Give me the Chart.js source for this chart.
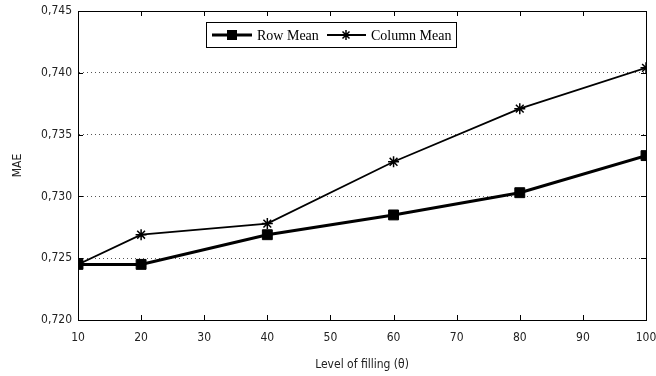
<!DOCTYPE html>
<html>
<head>
<meta charset="utf-8">
<script src="https://cdn.jsdelivr.net/npm/chart.js@4"></script>
<style>
  html, body { margin: 0; padding: 0; background: #fff; }
  #wrap { width: 656px; height: 376px; }
</style>
</head>
<body>
<div id="wrap"><canvas id="maeChart" width="656" height="376"></canvas></div>
<script>
// Datos
const fillLevels = [10, 20, 40, 60, 80, 100];
const rowMean = [0.7245, 0.7245, 0.7269, 0.7285, 0.7303, 0.7333];
const columnMean = [0.7245, 0.7269, 0.7278, 0.7328, 0.7371, 0.7404];
const xTicks = [10, 20, 30, 40, 50, 60, 70, 80, 90, 100];
const yTicks = [0.720, 0.725, 0.730, 0.735, 0.740, 0.745];

const tickFont = { family: "'Liberation Sans Narrow', 'DejaVu Sans Condensed', 'Liberation Sans', sans-serif", size: 12 };

// Caja del área, marcas hacia dentro y leyenda tipo MATLAB
const boxPlugin = {
  id: 'boxPlugin',
  afterDraw(chart) {
    const { ctx, chartArea: a, scales } = chart;
    ctx.save();
    ctx.strokeStyle = '#000';
    ctx.lineWidth = 1;
    ctx.strokeRect(a.left + 0.5, a.top + 0.5, a.right - a.left, a.bottom - a.top);
    ctx.beginPath();
    xTicks.forEach(v => {
      const x = Math.round(scales.x.getPixelForValue(v)) + 0.5;
      ctx.moveTo(x, a.bottom); ctx.lineTo(x, a.bottom - 5);
      ctx.moveTo(x, a.top); ctx.lineTo(x, a.top + 5);
    });
    yTicks.forEach(v => {
      const y = Math.round(scales.y.getPixelForValue(v)) + 0.5;
      ctx.moveTo(a.left, y); ctx.lineTo(a.left + 5, y);
      ctx.moveTo(a.right, y); ctx.lineTo(a.right - 5, y);
    });
    ctx.stroke();

    // leyenda
    const lx = 206, ly = 22, lw = 250, lh = 25;
    ctx.fillStyle = '#fff';
    ctx.fillRect(lx, ly, lw, lh);
    ctx.strokeRect(lx + 0.5, ly + 0.5, lw, lh);
    const cy = ly + lh / 2 + 0.5;
    ctx.font = "14px 'Liberation Serif', 'DejaVu Serif', serif";
    ctx.textBaseline = 'middle';
    ctx.fillStyle = '#000';

    ctx.lineWidth = 3;
    ctx.beginPath(); ctx.moveTo(212, cy); ctx.lineTo(252, cy); ctx.stroke();
    ctx.fillRect(227, cy - 5, 10, 10);
    ctx.fillText('Row Mean', 257, cy + 1);

    ctx.lineWidth = 2;
    ctx.beginPath(); ctx.moveTo(327, cy); ctx.lineTo(366, cy); ctx.stroke();
    ctx.lineWidth = 1.5;
    ctx.beginPath();
    const s = 5;
    ctx.moveTo(346 - s, cy); ctx.lineTo(346 + s, cy);
    ctx.moveTo(346, cy - s); ctx.lineTo(346, cy + s);
    ctx.moveTo(346 - s * 0.7, cy - s * 0.7); ctx.lineTo(346 + s * 0.7, cy + s * 0.7);
    ctx.moveTo(346 - s * 0.7, cy + s * 0.7); ctx.lineTo(346 + s * 0.7, cy - s * 0.7);
    ctx.stroke();
    ctx.fillText('Column Mean', 371, cy + 1);
    ctx.restore();
  }
};

const ctx = document.getElementById('maeChart').getContext('2d');
new Chart(ctx, {
  type: 'line',
  data: {
    datasets: [{
      label: 'Row Mean',
      data: fillLevels.map((x, i) => ({ x: x, y: rowMean[i] })),
      borderColor: '#000',
      backgroundColor: '#000',
      borderWidth: 3,
      pointStyle: 'rect',
      pointRadius: 7,
      pointBorderWidth: 1,
      tension: 0
    }, {
      label: 'Column Mean',
      data: fillLevels.map((x, i) => ({ x: x, y: columnMean[i] })),
      borderColor: '#000',
      backgroundColor: '#000',
      borderWidth: 1.8,
      pointStyle: 'star',
      pointRadius: 5.5,
      pointBorderWidth: 1.5,
      tension: 0
    }]
  },
  options: {
    responsive: false,
    animation: false,
    layout: { padding: { top: 11, right: 10, left: 0, bottom: 0 } },
    plugins: {
      legend: { display: false },
      tooltip: { enabled: false }
    },
    scales: {
      x: {
        type: 'linear',
        min: 10,
        max: 100,
        afterBuildTicks: scale => { scale.ticks = xTicks.map(v => ({ value: v })); },
        afterFit: scale => {
          scale.height = 56;
          scale.paddingLeft = 0;
          scale.paddingRight = 0;
        },
        grid: { display: false, drawTicks: false },
        border: { display: true, color: '#000' },
        ticks: { color: '#222', font: tickFont, padding: 11, maxRotation: 0 },
        title: { display: true, text: 'Level of filling (θ)', color: '#222', font: tickFont, padding: { top: 4 } }
      },
      y: {
        min: 0.720,
        max: 0.745,
        afterBuildTicks: scale => { scale.ticks = yTicks.map(v => ({ value: v })); },
        afterFit: scale => {
          scale.width = 78;
          scale.paddingTop = 0;
          scale.paddingBottom = 0;
        },
        grid: {
          color: '#555',
          lineWidth: 1,
          drawTicks: false
        },
        border: { display: true, color: '#000', dash: [1, 3] },
        ticks: {
          color: '#222',
          font: tickFont,
          padding: 6,
          callback: v => v.toFixed(3).replace('.', ',')
        },
        title: { display: true, text: 'MAE', color: '#222', font: tickFont, padding: { top: 11, bottom: 0 } }
      }
    }
  },
  plugins: [boxPlugin]
});
</script>
</body>
</html>
